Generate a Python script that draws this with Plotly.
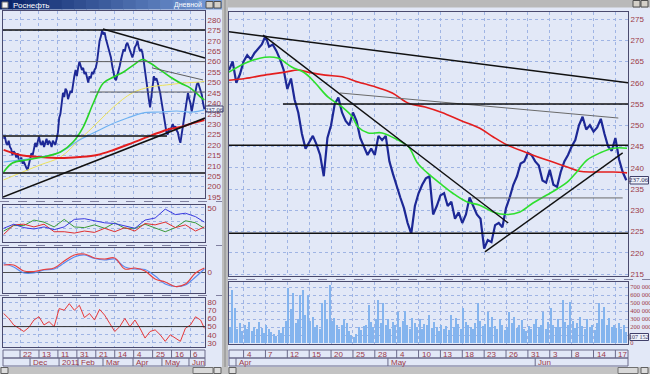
import plotly.graph_objects as go

W, H = 650, 374


def X(p):
    return p / W


def Y(p):
    return 1 - p / H


FONT = "Liberation Sans"
NARROW = "Liberation Sans Narrow"
LBL = "#9c3a48"
GRID = "#9fb4e4"
FRAME = "#4a4a6e"
BG = "#e2e8f7"
BARS = "#1d2896"

# ---------------- LEFT WINDOW (daily) ----------------
left_close = [
    223, 224, 221, 220, 222, 219, 218, 215, 217, 216,
    214, 216, 213, 212, 214, 211, 212, 210, 209, 208,
    211, 213, 216, 215, 218, 221, 219, 222, 224, 221,
    220, 222, 219, 221, 223, 220, 222, 221, 219, 222,
    221, 220, 223, 226, 233, 235, 240, 245, 243, 247,
    246, 242, 244, 246, 245, 250, 253, 256, 253, 257,
    260, 258, 256, 257, 254, 255, 253, 250, 253, 252,
    255, 254, 256, 257, 260, 266, 270, 272, 275, 273,
    274, 271, 269, 266, 264, 262, 258, 255, 252, 251,
    253, 255, 258, 261, 264, 266, 265, 268, 269, 267,
    265, 264, 262, 264, 267, 268, 270, 267, 265, 266,
    264, 260, 255, 250, 246, 242, 238, 243, 246, 253,
    251, 252, 250, 248, 245, 241, 237, 234, 230, 226,
    225, 228, 227, 229, 230, 228, 229, 227, 226, 223,
    221, 225, 229, 233, 238, 243, 245, 242, 240, 236,
    239, 242, 245, 249, 250, 248, 246, 244, 240, 237.06,
]

left_green_day = [0, 7, 18, 31, 45, 55, 63, 71, 79, 87, 95, 103, 110, 116, 124, 132, 140, 148, 156, 159]
left_green_val = [207, 211.3, 212.8, 214.2, 216.6, 221.4, 228.6, 240, 249.7, 252.6, 255, 258.4, 261,
                  259.3, 256, 252.6, 249.7, 247.3, 243, 241.6]
left_red_day = [0, 13, 29, 45, 60, 74, 87, 102, 118, 129, 140, 150, 159]
left_red_val = [217.6, 215.2, 214.2, 213.7, 214.2, 215.2, 217.6, 221, 224.8, 227.2, 228.6, 230.5, 232]
left_cyan_day = [0, 13, 29, 45, 60, 71, 84, 98, 110, 124, 137, 150, 159]
left_cyan_val = [211.8, 212.8, 214.2, 216.6, 222.4, 225.7, 229.6, 232.9, 235.3, 235.8, 236.3, 235.8, 236.8]
left_yellow_day = [0, 13, 29, 45, 60, 74, 87, 102, 116, 129, 142, 155, 159]
left_yellow_val = [203.2, 206.5, 210.4, 214.2, 222.4, 230.5, 238.2, 245, 247.8, 248.8, 249.7, 250.2, 250.5]

# drawn lines: (day0, price0, day1, price1)
left_black_lines = [(-0.5, 195.0, 159.5, 232.9), (78.7, 275.7, 159.5, 261.7),
                    (-0.5, 275.2, 159.5, 275.2), (-0.5, 206.5, 159.5, 206.5),
                    (-0.5, 224.3, 129.4, 224.3)]
left_gray_lines = [(60.5, 260.0, 159.5, 260.0), (68.4, 245.4, 159.5, 245.4),
                   (117.5, 257.0, 157.9, 251.2)]

ind_day = [0, 8, 16, 24, 32, 40, 48, 56, 64, 72, 80, 88, 96, 104, 112, 120, 128, 136, 144, 152, 159]
dmi_blue = [20, 26, 21, 19, 22, 18, 22, 33, 34, 31, 28, 27, 24, 20, 32, 35, 48, 40, 42, 37, 29]
dmi_green = [16, 24, 24, 32, 29, 22, 33, 22, 21, 25, 20, 28, 20, 20, 26, 20, 15, 21, 31, 28, 20]
dmi_red = [11, 25, 26, 22, 26, 15, 15, 13, 16, 14, 20, 15, 21, 16, 27, 25, 29, 21, 25, 16, 22]
macd_red = [7, 7, 1, 0.5, 2.5, 4, 11, 17, 18, 14, 13, 14, 3, 4, 1, -7, -10, -14.5, -12, -1, 4]
macd_blue = [8.5, 5, -1, -1, 2, 3, 9, 15, 17, 13.5, 12, 13, 5, 3, 2.5, -4, -12, -14.5, -13, -5, 3]
rsi_day = [0, 4, 8, 12, 16, 20, 24, 28, 32, 36, 40, 44, 48, 52, 56, 60, 64, 68, 72, 76,
           80, 84, 88, 92, 96, 100, 104, 108, 112, 116, 120, 124, 128, 132, 136, 140, 144, 148, 152, 156, 159]
rsi_val = [66, 60, 52, 48, 44, 49, 58, 62, 52, 56, 50, 72, 70, 78, 70, 76, 61, 66, 58, 71,
           64, 54, 44, 50, 60, 50, 58, 48, 36, 44, 46, 40, 32, 40, 36, 32, 48, 52, 62, 58, 48]

left_tick_days = [13, 28, 43, 58, 73, 88, 103, 118, 133, 148]
left_tick_labels = ["22", "13", "11", "31", "21", "14", "4", "25", "16", "6"]
left_month_days = [20.9, 43.9, 58.9, 78.7, 102.5, 125.4, 146.8]
left_month_labels = ["Dec", "2011", "Feb", "Mar", "Apr", "May", "Jun"]

# ---------------- RIGHT WINDOW (intraday, 2 closes / day) ----------------
right_close = [
    263, 265, 260, 262, 265, 266.5, 265.5, 267, 268, 269,
    271, 268.5, 269, 267.5, 265.5, 263, 258.5, 261, 256, 253,
    248, 244.5, 246, 247.5, 245.5, 243, 238, 247, 250, 255,
    256.5, 253, 251, 250, 253, 251, 247, 245, 243, 244.5,
    243, 247.5, 246.5, 247.5, 241.5, 238.5, 235.5, 233, 230.5, 227,
    224.5, 231, 234, 236, 237.5, 238, 229, 231, 233.5, 234,
    231, 232, 228, 229.5, 227, 229, 233, 231, 229, 228,
    221, 223, 222.5, 226.5, 227, 226, 230.5, 233, 236, 238,
    241, 241.5, 243.5, 243, 241.5, 240.5, 237, 236.5, 239.5, 236,
    235.5, 239, 241.5, 243, 245, 246.5, 250, 252, 249, 250,
    248.5, 249.5, 251.5, 248, 245, 244, 247, 242, 239, 237.06,
]
right_green_day = [0, 2.2, 4.9, 6.7, 8.6, 10.4, 11.8, 13.6, 15.5, 16.9, 17.7, 19.1, 21, 23.2, 24.6, 25.9,
                   27.2, 29.2, 30.7, 32.6, 34.4, 36.2, 38.1, 39.9, 41.7, 43.6, 45, 46.4, 47.7, 49.1,
                   50.9, 52.7, 54.6]
right_green_val = [262.5, 264.6, 266, 265.8, 263.7, 262.3, 260, 256.6, 254.3, 252, 249.6, 248.2, 248.2,
                   246.5, 245, 241, 238.8, 236, 234, 232, 231.2, 229.6, 229, 229.6, 231.7, 233.6, 235,
                   236.6, 239, 241.8, 243.5, 244.6, 244.6]
right_red_day = [0, 2.2, 4.9, 7.7, 9.5, 10.8, 13.2, 15.5, 17.7, 20.1, 22.4, 24.6, 26.9, 29.2, 31.7,
                 34.4, 36.2, 38.1, 40.9, 43.6, 46.4, 48.1, 49.9, 52.7, 54.6]
right_red_val = [260.6, 261, 261.8, 262.5, 263, 262.5, 261.8, 261.4, 260.2, 259, 257.6, 255.2, 254.3,
                 253, 251.2, 249.3, 247.3, 245.4, 243.5, 241.8, 240.2, 239.2, 239, 239, 238.8]
right_black_lines = [(0, 272.0, 54.73, 260.0), (4.66, 271.2, 38.3, 227.0), (35.1, 220.2, 54.0, 243.5),
                     (7.4, 255.0, 54.73, 255.0), (0, 245.3, 54.73, 245.3), (0, 224.6, 54.73, 224.6)]
right_gray_lines = [(33.3, 232.9, 54.0, 232.9), (15.2, 257.6, 53.4, 251.7)]

right_volume = [  # thousands, 3 bars per day
    200, 660, 440, 180, 250, 150, 220, 170, 260, 150, 200, 180, 260, 190, 120,
    230, 170, 140, 110, 90, 160, 130, 200, 270, 690, 420, 620, 250, 300, 600,
    660, 350, 600, 280, 330, 200, 220, 180, 500, 540, 300, 725, 280, 310, 220,
    180, 220, 300, 250, 150, 100, 75, 110, 200, 160, 210, 230, 475, 260, 200,
    300, 540, 250, 500, 220, 300, 180, 260, 230, 390, 200, 280, 400, 230, 180,
    310, 250, 200, 300, 170, 240, 220, 350, 190, 260, 200, 150, 230, 180, 210,
    160, 350, 200, 310, 240, 170, 440, 260, 230, 200, 180, 250, 500, 270, 210,
    240, 390, 200, 330, 210, 180, 300, 230, 160, 200, 390, 250, 330, 190, 220,
    290, 180, 150, 210, 170, 240, 300, 200, 230, 390, 180, 260, 440, 220, 200,
    300, 200, 540, 260, 220, 510, 270, 190, 250, 330, 210, 180, 300, 200, 230,
    160, 250, 500, 300, 450, 220, 310, 200, 230, 190, 250, 170, 230, 140,
]

right_tick_days = [2, 5, 8, 11, 14, 17, 20, 23, 26, 29, 32, 35, 38, 41, 44, 47, 50, 53]
right_tick_labels = ["4", "7", "12", "15", "20", "25", "28", "4", "10", "13", "18", "23", "26", "31",
                     "3", "8", "14", "17"]
right_month_days = [0.96, 21.8, 42.0]
right_month_labels = ["Apr", "May", "Jun"]

# ---------------- figure ----------------
fig = go.Figure()


def add_line(xs, ys, xa, ya, color, width, shape="linear", dash=None):
    fig.add_trace(go.Scatter(x=xs, y=ys, xaxis=xa, yaxis=ya, mode="lines",
                             line=dict(color=color, width=width, shape=shape, dash=dash),
                             hoverinfo="skip"))


# left main
add_line(list(range(len(left_close))), left_close, "x", "y", BARS, 1.9)
add_line(left_yellow_day, left_yellow_val, "x", "y", "#ece25c", 1, "spline")
add_line(left_cyan_day, left_cyan_val, "x", "y", "#6fb2f2", 1.2, "spline")
add_line(left_red_day, left_red_val, "x", "y", "#e41e1e", 2, "spline")
add_line(left_green_day, left_green_val, "x", "y", "#27d327", 1.6, "spline")
for a, b, c, d in left_gray_lines:
    add_line([a, c], [b, d], "x", "y", "#5e5e5e", 1)
for a, b, c, d in left_black_lines:
    add_line([a, c], [b, d], "x", "y", "#111111", 1.6)

# left indicator panels
add_line(ind_day, dmi_green, "x2", "y2", "#3a9a3a", 1)
add_line(ind_day, dmi_red, "x2", "y2", "#e03030", 1)
add_line(ind_day, dmi_blue, "x2", "y2", "#3a3ae0", 1)
add_line(ind_day, macd_blue, "x3", "y3", "#5a8af0", 1.2, "spline")
add_line(ind_day, macd_red, "x3", "y3", "#e84040", 1.2, "spline")
add_line(rsi_day, rsi_val, "x4", "y4", "#e83a3a", 1)

# right main
add_line([i * 0.5 for i in range(len(right_close))], right_close, "x5", "y5", BARS, 2.2)
add_line(right_red_day, right_red_val, "x5", "y5", "#e41e1e", 1.6, "spline")
add_line(right_green_day, right_green_val, "x5", "y5", "#2ee02e", 1.6, "spline")
for a, b, c, d in right_gray_lines:
    add_line([a, c], [b, d], "x5", "y5", "#6a6a6a", 1)
for a, b, c, d in right_black_lines:
    add_line([a, c], [b, d], "x5", "y5", "#111111", 1.4)

# right volume
fig.add_trace(go.Bar(x=[(i + 0.5) / 3 for i in range(len(right_volume))],
                     y=[v * 1000 for v in right_volume], xaxis="x6", yaxis="y6",
                     marker=dict(color="#84b4ee", line=dict(width=0)), width=0.2,
                     hoverinfo="skip"))


def xaxis_cfg(px0, px1, rng, tickvals, anchor):
    return dict(domain=[X(px0), X(px1)], range=rng, anchor=anchor, tickvals=tickvals,
                showticklabels=False, ticks="", showgrid=True, gridcolor=GRID, griddash="dot",
                gridwidth=1, zeroline=False, showline=True, mirror=True, linecolor=FRAME,
                linewidth=1, fixedrange=True, automargin=False)


def yaxis_cfg(py0, py1, rng, tickvals, ticktext, anchor, size=8, zeroline=False, family=FONT):
    return dict(domain=[Y(py1), Y(py0)], range=rng, anchor=anchor, side="right",
                tickvals=tickvals, ticktext=ticktext, ticks="",
                tickfont=dict(family=family, size=size, color=LBL), showgrid=True,
                gridcolor=GRID, griddash="dot", gridwidth=1, zeroline=zeroline,
                zerolinecolor="#505050", zerolinewidth=1, showline=True, mirror=True,
                linecolor=FRAME, linewidth=1, fixedrange=True, automargin=False)


LX = [-0.5, 159.5]
RX = [0, 54.73]
left_prices = list(range(195, 285, 5))
right_prices = list(range(215, 280, 5))
vol_ticks = [i * 100000 for i in range(8)]
# the 100 000 label is hidden under the last-volume box, as in the original
vol_text = ["0", ""] + ["%d 000" % (i * 100) for i in range(2, 8)]

layout = dict(
    width=W, height=H, margin=dict(l=0, r=0, t=0, b=0), paper_bgcolor=BG, plot_bgcolor=BG,
    showlegend=False, font=dict(family=FONT, size=8, color=LBL),
    xaxis=xaxis_cfg(3, 205, LX, left_tick_days, "y"),
    yaxis=yaxis_cfg(11, 198, [194.52, 284.3], left_prices, [str(v) for v in left_prices], "x"),
    xaxis2=xaxis_cfg(3, 205, LX, left_tick_days, "y2"),
    yaxis2=yaxis_cfg(205, 242, [0, 54], [10, 20, 30, 40, 50], ["", "", "", "", "50"], "x2"),
    xaxis3=xaxis_cfg(3, 205, LX, left_tick_days, "y3"),
    yaxis3=yaxis_cfg(248, 293, [-21, 24], [-10, 0, 10, 20], ["", "0", "", ""], "x3", zeroline=True),
    xaxis4=xaxis_cfg(3, 205, LX, left_tick_days, "y4"),
    yaxis4=yaxis_cfg(298, 347, [25.1, 84.9], [30, 40, 50, 60, 70, 80],
                     ["30", "40", "50", "60", "70", "80"], "x4"),
    xaxis5=xaxis_cfg(229, 628, RX, right_tick_days, "y5"),
    yaxis5=yaxis_cfg(12, 276, [214.53, 276.65], right_prices, [str(v) for v in right_prices], "x5"),
    xaxis6=xaxis_cfg(229, 628, RX, right_tick_days, "y6"),
    yaxis6=yaxis_cfg(282, 344, [-12500, 762500], vol_ticks, vol_text, "x6", size=6.5, family=NARROW),
)

shapes = []
annotations = []


def rect(x0, y0, x1, y1, fill=None, line=None, lw=1):
    return dict(type="rect", xref="paper", yref="paper", x0=X(x0), x1=X(x1), y0=Y(y1), y1=Y(y0),
                fillcolor=fill if fill else "rgba(0,0,0,0)",
                line=dict(color=line if line else "rgba(0,0,0,0)", width=lw if line else 0))


def hline(x0, x1, y, color, dash="solid", width=1):
    return dict(type="line", xref="paper", yref="paper", x0=X(x0), x1=X(x1), y0=Y(y), y1=Y(y),
                line=dict(color=color, width=width, dash=dash))


def text(x, y, s, color=LBL, size=8, anchor="left", family=FONT):
    annotations.append(dict(xref="paper", yref="paper", x=X(x), y=Y(y), text=s,
                            showarrow=False, xanchor=anchor, yanchor="middle",
                            font=dict(family=family, size=size, color=color)))


# RSI 50 level
shapes.append(dict(type="line", xref="x4 domain", yref="y4", x0=0, x1=1, y0=50, y1=50,
                   line=dict(color="#303030", width=1)))

# left window title bar (gradient)
c0, c1 = (10, 36, 106), (118, 156, 216)
n = 18
for i in range(n):
    t = i / (n - 1)
    col = "rgb(%d,%d,%d)" % tuple(int(a + (b - a) * t) for a, b in zip(c0, c1))
    shapes.append(rect(222 * i / n, 0, 222 * (i + 1) / n + 0.6, 9.5, col))
shapes.append(rect(2, 2, 8, 8, "#f4f4f4", "#707070"))
shapes.append(rect(206, 1.5, 213, 8, "#d4d0c8", "#505050"))
shapes.append(rect(214, 1.5, 221, 8, "#d4d0c8", "#505050"))
text(10.5, 5, "Роснефть", "#ffffff", 8)
text(204, 5, "Дневной", "#ffffff", 7, "right")

# right window title bar
shapes.append(rect(226, 0, 650, 7.5, "#b9b9b9"))
shapes.append(rect(633, 0.5, 640, 7, "#d4d0c8", "#505050"))
shapes.append(rect(641, 0.5, 648, 7, "#d4d0c8", "#505050"))

# separator between the two windows
shapes.append(rect(222, 0, 228, 374, "#bdbdbd"))
shapes.append(dict(type="line", xref="paper", yref="paper", x0=X(225), x1=X(225), y0=0, y1=1,
                   line=dict(color="#8a8a8a", width=1)))

# dashed panel separators
shapes.append(hline(0, 222, 201.5, "#8080a0", "dash"))
shapes.append(hline(0, 222, 245.5, "#8080a0", "dash"))
shapes.append(hline(0, 222, 295.5, "#8080a0", "dash"))
shapes.append(hline(228, 650, 279.5, "#8080a0", "dash"))

# bottom scroll bars
shapes.append(rect(0, 367, 650, 374, "#c3c3c3"))
shapes.append(rect(1, 367.5, 8, 373.5, "#dcdcdc", "#606060"))
shapes.append(rect(193, 367.5, 213, 373.5, "#d8d8d8", "#707070"))
shapes.append(rect(214, 367.5, 221, 373.5, "#dcdcdc", "#606060"))
shapes.append(rect(229, 367.5, 236, 373.5, "#dcdcdc", "#606060"))
shapes.append(rect(618, 367.5, 638, 373.5, "#d8d8d8", "#707070"))
shapes.append(rect(641, 367.5, 648, 373.5, "#dcdcdc", "#606060"))


def date_rows(xref, px0, px1, tdays, tlabels, mdays, mlabels):
    shapes.append(rect(px0, 350, px1, 358, None, "#6a6a8a"))
    shapes.append(rect(px0, 358, px1, 366, None, "#6a6a8a"))
    for dd, lab in zip(tdays, tlabels):
        shapes.append(dict(type="line", xref=xref, yref="paper", x0=dd, x1=dd, y0=Y(358), y1=Y(350),
                           line=dict(color="#6a6a8a", width=1)))
        annotations.append(dict(xref=xref, yref="paper", x=dd, y=Y(354.3), text=lab, showarrow=False,
                                xanchor="left", yanchor="middle", xshift=1,
                                font=dict(family=FONT, size=8, color=LBL)))
    for dd, lab in zip(mdays, mlabels):
        shapes.append(dict(type="line", xref=xref, yref="paper", x0=dd, x1=dd, y0=Y(366), y1=Y(358),
                           line=dict(color="#6a6a8a", width=1)))
        annotations.append(dict(xref=xref, yref="paper", x=dd, y=Y(362.3), text=lab, showarrow=False,
                                xanchor="left", yanchor="middle", xshift=1,
                                font=dict(family=FONT, size=8, color=LBL)))


date_rows("x", 3, 205, left_tick_days, left_tick_labels, left_month_days, left_month_labels)
date_rows("x5", 229, 628, right_tick_days, right_tick_labels, right_month_days, right_month_labels)

# last value boxes
shapes.append(rect(205.5, 106, 223, 112, "#eef2fb", "#40406a"))
text(214.3, 109.2, "237.06", "#30305a", 6.5, "center", NARROW)
shapes.append(rect(630, 176.5, 648.5, 184, "#eef2fb", "#40406a"))
text(639.3, 180.4, "237.06", "#30305a", 7, "center", NARROW)
shapes.append(rect(630, 333.5, 648.5, 340.5, "#eef2fb", "#40406a"))
text(639.3, 337, "107 152", "#30305a", 6, "center", NARROW)

layout["shapes"] = shapes
layout["annotations"] = annotations
layout["bargap"] = 0
fig.update_layout(**layout)

fig.write_html("out.html", config={"displayModeBar": False},
               post_script="document.body.style.margin='0px';document.body.style.overflow='hidden';")
